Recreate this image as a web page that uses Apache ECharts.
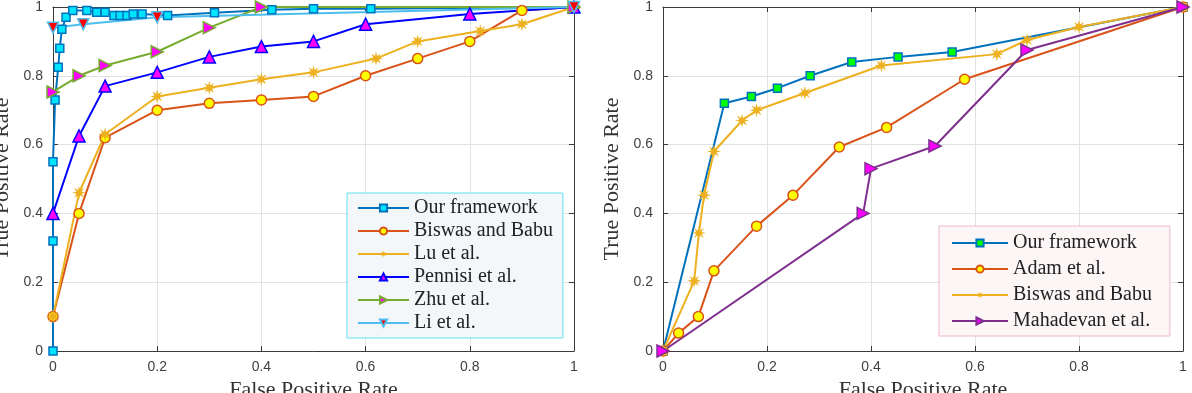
<!DOCTYPE html>
<html>
<head>
<meta charset="utf-8">
<script src="https://cdn.jsdelivr.net/npm/echarts@6/dist/echarts.min.js"></script>
<style>
  html, body { margin: 0; padding: 0; background: #fff; }
  #main { width: 1192px; height: 393px; }
</style>
</head>
<body>
<div id="main"></div>
<script>
// 左图数据
var ourX = [0, 0, 0, 0.004, 0.01, 0.013, 0.017, 0.025, 0.038, 0.065, 0.084, 0.10, 0.117, 0.129, 0.142, 0.154, 0.171, 0.22, 0.31, 0.42, 0.50, 0.61, 1];
var ourY = [0, 0.32, 0.55, 0.73, 0.825, 0.88, 0.935, 0.97, 0.99, 0.99, 0.985, 0.985, 0.975, 0.975, 0.975, 0.98, 0.98, 0.975, 0.983, 0.992, 0.995, 0.995, 1];
var biswasX = [0, 0.05, 0.1, 0.2, 0.3, 0.4, 0.5, 0.6, 0.7, 0.8, 0.9, 1];
var biswasY = [0.1, 0.4, 0.62, 0.70, 0.72, 0.73, 0.74, 0.80, 0.85, 0.90, 0.99, 1];
var luX = [0, 0.05, 0.1, 0.2, 0.3, 0.4, 0.5, 0.62, 0.7, 0.82, 0.9, 1];
var luY = [0.1, 0.46, 0.63, 0.74, 0.765, 0.79, 0.81, 0.85, 0.90, 0.93, 0.95, 1];
var pennisiX = [0, 0.05, 0.1, 0.2, 0.3, 0.4, 0.5, 0.6, 0.8, 1];
var pennisiY = [0.4, 0.625, 0.77, 0.81, 0.855, 0.885, 0.90, 0.95, 0.98, 1];
var zhuX = [0, 0.05, 0.1, 0.2, 0.3, 0.4, 1];
var zhuY = [0.753, 0.80, 0.83, 0.87, 0.94, 1.0, 1];
var liX = [0, 0.058, 0.2, 1];
var liY = [0.94, 0.95, 0.97, 1];
var leftNames = ['Our framework', 'Biswas and Babu', 'Lu et al.', 'Pennisi et al.', 'Zhu et al.', 'Li et al.'];

// 右图数据
var our2X = [0, 0.118, 0.17, 0.22, 0.283, 0.363, 0.452, 0.556, 1];
var our2Y = [0, 0.72, 0.74, 0.764, 0.80, 0.84, 0.855, 0.869, 1];
var adamX = [0, 0.03, 0.068, 0.098, 0.18, 0.25, 0.339, 0.43, 0.58, 1];
var adamY = [0, 0.052, 0.10, 0.233, 0.363, 0.453, 0.593, 0.65, 0.79, 1];
var biswas2X = [0, 0.06, 0.069, 0.079, 0.098, 0.152, 0.18, 0.273, 0.42, 0.642, 0.70, 0.80, 1];
var biswas2Y = [0, 0.204, 0.343, 0.453, 0.58, 0.67, 0.70, 0.75, 0.83, 0.863, 0.904, 0.942, 1];
var mahaX = [0, 0.385, 0.40, 0.523, 0.70, 1];
var mahaY = [0, 0.40, 0.53, 0.596, 0.875, 1];
// 右图图例名称后带空格，避免和左图同名
var rightNames = ['Our framework ', 'Adam et al. ', 'Biswas and Babu ', 'Mahadevan et al. '];

var STAR = 'path://M10,0L11.53,6.3L17.07,2.93L13.7,8.47L20,10L13.7,11.53L17.07,17.07L11.53,13.7L10,20L8.47,13.7L2.93,17.07L6.3,11.53L0,10L6.3,8.47L2.93,2.93L8.47,6.3Z';
var serif = '"Liberation Serif", "DejaVu Serif", serif';
var sans = '"Liberation Sans", Arial, sans-serif';

function pairs(xs, ys) {
  return xs.map(function (x, i) { return [x, ys[i]]; });
}

// 一条线
function line(name, grid, xs, ys, color, symbol, fill, size, rotate) {
  return {
    name: name,
    type: 'line',
    xAxisIndex: grid * 2,
    yAxisIndex: grid * 2,
    data: pairs(xs, ys),
    symbol: symbol,
    symbolSize: size,
    symbolRotate: rotate || 0,
    showAllSymbol: true,
    animation: false,
    lineStyle: { color: color, width: 2 },
    itemStyle: {
      color: fill,
      borderColor: symbol === STAR ? fill : color,
      borderWidth: symbol === STAR ? 0 : 1.5
    },
    emphasis: { disabled: true }
  };
}

// 坐标轴，main为带标签的那一条
function axis(grid, pos, main, title) {
  var isX = pos === 'bottom' || pos === 'top';
  var a = {
    type: 'value',
    gridIndex: grid,
    position: pos,
    min: 0,
    max: 1,
    interval: 0.2,
    axisLine: { show: true, onZero: false, lineStyle: { color: '#3a3a3a', width: 1 } },
    axisTick: { show: true, inside: true, length: 5, lineStyle: { color: '#3a3a3a' } },
    axisLabel: {
      show: main,
      color: '#404040',
      fontSize: 14,
      fontFamily: sans,
      margin: isX ? 9 : 10
    },
    splitLine: { show: main, lineStyle: { color: '#e2e2e2', width: 1 } }
  };
  if (main) {
    a.name = title;
    a.nameLocation = 'middle';
    a.nameGap = isX ? 27 : 40;
    a.nameTextStyle = { fontFamily: serif, fontSize: 22, color: '#333' };
  }
  return a;
}

function legend(names, left, top, itemWidth, gap, pad, bg, border) {
  return {
    data: names,
    orient: 'vertical',
    left: left,
    top: top,
    itemWidth: itemWidth,
    itemHeight: 9,
    itemGap: gap,
    padding: pad,
    backgroundColor: bg,
    borderColor: border,
    borderWidth: 1,
    borderRadius: 0,
    selectedMode: false,
    formatter: function (n) { return n.trim(); },
    textStyle: { fontFamily: serif, fontSize: 20, color: '#222', lineHeight: 18 }
  };
}

var chart = echarts.init(document.getElementById('main'), null, { renderer: 'canvas' });
chart.setOption({
  animation: false,
  grid: [
    { left: 53, top: 7, width: 521, height: 344, containLabel: false, outerBoundsMode: 'none' },
    { left: 663, top: 7, width: 520, height: 344, containLabel: false, outerBoundsMode: 'none' }
  ],
  xAxis: [
    axis(0, 'bottom', true, 'False Positive Rate'),
    axis(0, 'top', false),
    axis(1, 'bottom', true, 'False Positive Rate'),
    axis(1, 'top', false)
  ],
  yAxis: [
    axis(0, 'left', true, 'True Positive Rate'),
    axis(0, 'right', false),
    axis(1, 'left', true, 'True Positive Rate'),
    axis(1, 'right', false)
  ],
  legend: [
    legend(leftNames, 347, 193, 51, 3, [5, 10, 5, 10], '#f4f7f9', '#5fe3ef'),
    legend(rightNames, 939, 226, 56, 6, [7, 18, 5, 12], '#fcf6f6', '#f3b6ca')
  ],
  series: [
    line(leftNames[0], 0, ourX, ourY, '#0072BD', 'rect', '#00e5ff', 8),
    line(leftNames[1], 0, biswasX, biswasY, '#D95319', 'circle', '#ffff00', 10),
    line(leftNames[2], 0, luX, luY, '#EDB120', STAR, '#EDB120', 14),
    line(leftNames[3], 0, pennisiX, pennisiY, '#0000FF', 'triangle', '#ff00ff', 12),
    line(leftNames[4], 0, zhuX, zhuY, '#77AC30', 'triangle', '#ff00ff', 12, -90),
    line(leftNames[5], 0, liX, liY, '#4DBEEE', 'triangle', '#ff0000', 11, 180),
    line(rightNames[0], 1, our2X, our2Y, '#0072BD', 'rect', '#00ff00', 8),
    line(rightNames[1], 1, adamX, adamY, '#D95319', 'circle', '#ffff00', 10),
    line(rightNames[2], 1, biswas2X, biswas2Y, '#EDB120', STAR, '#EDB120', 14),
    line(rightNames[3], 1, mahaX, mahaY, '#7E2F8E', 'triangle', '#ff00ff', 12, -90)
  ]
});
</script>
</body>
</html>
